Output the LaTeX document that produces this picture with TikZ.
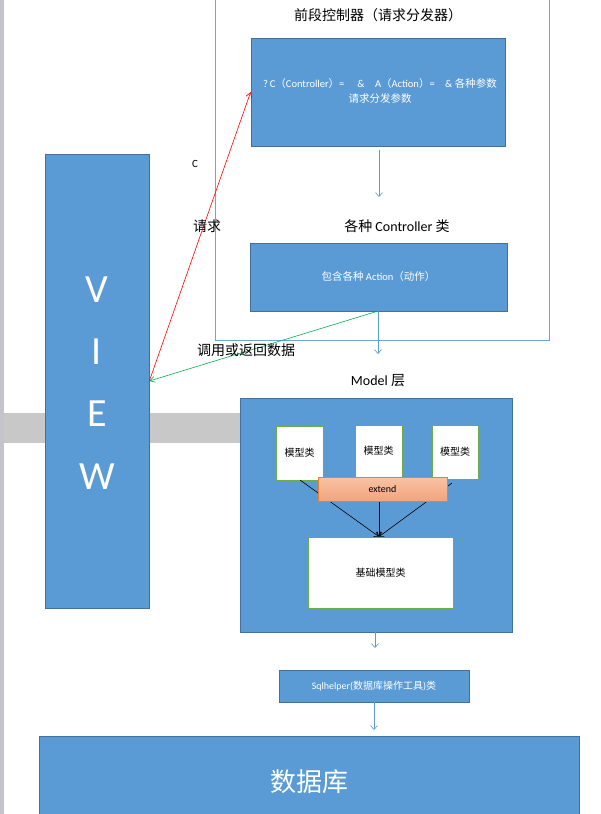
\documentclass[tikz,border=0pt]{standalone}
\usepackage{fontspec}
\setmainfont{Carlito}
\newfontfamily\cjk{Noto Sans CJK SC}
\usetikzlibrary{arrows.meta}
\definecolor{bfill}{HTML}{5B9BD5}
\definecolor{bline}{HTML}{41719C}
\definecolor{gline}{HTML}{70AD47}
\definecolor{oline}{HTML}{ED7D31}
\definecolor{otop}{HTML}{F8C3A6}
\definecolor{obot}{HTML}{F4A37C}
\definecolor{greyband}{HTML}{C8C8C8}
\definecolor{greenarr}{HTML}{00B050}
\definecolor{edgestrip}{HTML}{C4C4CC}
\tikzset{
  bluebox/.style={draw=bline, fill=bfill, line width=0.7pt, inner sep=0pt, text=white, align=center},
  whitebox/.style={draw=gline, fill=white, line width=0.7pt, inner sep=0pt, align=center, font=\cjk\fontsize{10}{12}\selectfont},
  flowarrow/.style={draw=bfill, line width=0.6pt, -{Straight Barb[length=4pt,width=7pt]}},
  blackarrow/.style={draw=black, line width=0.6pt, -{Straight Barb[length=4pt,width=6pt]}},
  lbl/.style={inner sep=0pt, font=\cjk\fontsize{14}{16}\selectfont},
  viewletter/.style={text=white, inner sep=0pt, font=\fontsize{40}{40}\selectfont}
}
\begin{document}
\begin{tikzpicture}[x=1pt,y=-1pt]
\useasboundingbox (0,0) rectangle (600,814);
\fill[white] (0,0) rectangle (600,814);
% left screen strip
\fill[edgestrip] (0,0) rectangle (4,814);
% grey band
\fill[greyband] (4,413) rectangle (240,443);
% front controller container
\draw[draw=bfill!90, line width=0.7pt] (215,-5) -- (215,340) -- (549,340) -- (549,-5);
\node[lbl] (title) at (378,15) {前段控制器（请求分发器）};
\node[bluebox, minimum width=254pt, minimum height=108pt] (box1) at (378,92) {};
\node[text=white, inner sep=0pt, align=center, font=\fontsize{10.5}{15}\selectfont] (box1t) at (380,91)
  {?\,C{\cjk（}Controller{\cjk）}=\quad\ \&\quad A{\cjk（}Action{\cjk）}=\quad\& {\cjk 各种参数}\\{\cjk 请求分发参数}};
\coordinate (a1end) at (379,197);
\draw[flowarrow] (379,150) -- (a1end);
\node[lbl] (ctitle) at (397,226) {各种 {\fontspec{Carlito}Controller} 类};
\node[bluebox, minimum width=257pt, minimum height=68pt, font=\fontsize{10.5}{12}\selectfont] (box2) at (378.5,277) {{\cjk 包含各种} Action{\cjk（动作）}};
\coordinate (a2end) at (378,354);
\draw[flowarrow] (box2.south -| 378,0) -- (a2end);
\node[lbl] (mtitle) at (378,381) {{\fontspec{Carlito}Model} 层};
% model box
\node[bluebox, minimum width=272pt, minimum height=234pt] (model) at (376,515) {};
\node[whitebox, minimum width=47pt, minimum height=54pt] (mA) at (299.5,453) {模型类};
\node[whitebox, minimum width=47pt, minimum height=52pt] (mB) at (378.5,451) {模型类};
\node[whitebox, minimum width=46pt, minimum height=54pt] (mC) at (455,452) {模型类};
\node[whitebox, minimum width=145pt, minimum height=71pt] (base) at (380.5,572.5) {基础模型类};
\draw[blackarrow] (300,480) -- (base.north -| 379,0);
\draw[blackarrow] (mB.south -| 379,0) -- (base.north -| 379,0);
\draw[blackarrow] (452,483) -- (base.north -| 379,0);
\node[draw=oline, line width=0.7pt, top color=otop, bottom color=obot, minimum width=129pt, minimum height=24pt, inner sep=0pt, font=\fontsize{10}{12}\selectfont] (ext) at (382.5,489) {extend};
% model -> sql
\coordinate (a3end) at (375,648);
\draw[flowarrow] (model.south -| 375,0) -- (a3end);
\node[bluebox, minimum width=190pt, minimum height=32pt, font=\fontsize{10}{12}\selectfont] (sql) at (374,686) {Sqlhelper({\cjk 数据库操作工具})\cjk 类};
\coordinate (a4end) at (374,730);
\draw[flowarrow] (sql.south -| 374,0) -- (a4end);
\node[bluebox, minimum width=540pt, minimum height=92pt, font=\cjk\fontsize{26}{30}\selectfont] (db) at (309,782) {数据库};
% VIEW
\node[bluebox, minimum width=104pt, minimum height=454pt] (view) at (97,381) {};
\node[viewletter] (vV) at (97,290) {V};
\node[viewletter] (vI) at (97,352) {I};
\node[viewletter] (vE) at (97,414) {E};
\node[viewletter] (vW) at (97,477) {W};
% request / return arrows
\draw[red, line width=0.6pt, -{Straight Barb[length=5pt,width=6pt]}] (view.east) -- (box1.west);
\draw[greenarr, line width=0.6pt, -{Straight Barb[length=5pt,width=6pt]}] (box2.south -| 377,0) -- (view.east);
\node[inner sep=0pt, font=\fontsize{11}{12}\selectfont] (lc) at (195,164) {C};
\node[lbl] (lreq) at (207,226) {请求};
\node[lbl] (lret) at (246,350) {调用或返回数据};
\end{tikzpicture}
\end{document}
